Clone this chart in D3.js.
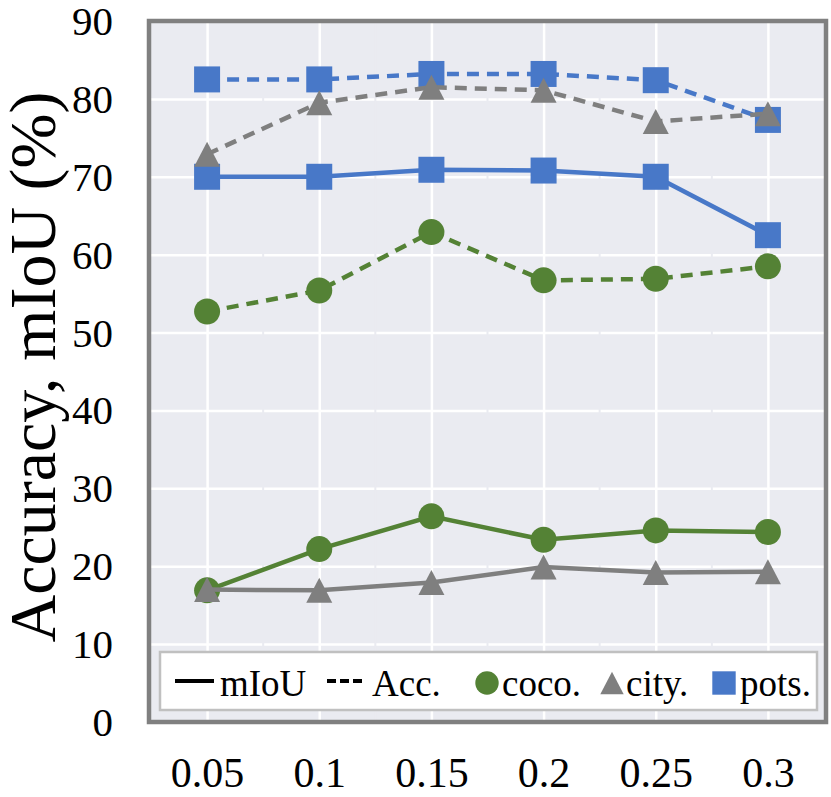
<!DOCTYPE html>
<html lang="en">
<head>
<meta charset="UTF-8">
<title>Accuracy, mIoU</title>
<style>
  body { margin: 0; background: #fff; }
  svg text { font-family: "Liberation Serif", "Times New Roman", serif; fill: #000; }
</style>
</head>
<body>
<div id="chart"></div>
<script src="https://d3js.org/d3.v7.min.js"></script>
<script>
// data
const categories = ["0.05", "0.1", "0.15", "0.2", "0.25", "0.3"];
const yTicks = [0, 10, 20, 30, 40, 50, 60, 70, 80, 90];

const cocoMIoU = [16.9, 22.2, 26.4, 23.4, 24.6, 24.4];
const cocoAcc  = [52.7, 55.4, 62.9, 56.7, 56.9, 58.5];
const cityMIoU = [17.0, 16.9, 17.9, 19.9, 19.2, 19.3];
const cityAcc  = [72.9, 79.5, 81.5, 81.1, 77.1, 78.1];
const potsMIoU = [70.0, 70.0, 70.9, 70.8, 70.0, 62.5];
const potsAcc  = [82.5, 82.5, 83.2, 83.2, 82.4, 77.3];

const colors = { coco: "#548235", city: "#7f7f7f", pots: "#4878c8" };

// draw order: coco first, then pots, city on top
const series = [
  { name: "coco", values: cocoAcc,  dashed: true,  shape: "circle" },
  { name: "coco", values: cocoMIoU, dashed: false, shape: "circle" },
  { name: "pots", values: potsMIoU, dashed: false, shape: "square" },
  { name: "pots", values: potsAcc,  dashed: true,  shape: "square" },
  { name: "city", values: cityMIoU, dashed: false, shape: "triangle" },
  { name: "city", values: cityAcc,  dashed: true,  shape: "triangle" }
];

const W = 831, H = 797;
const plot = { left: 149, right: 826, top: 21, bottom: 722 };

const svg = d3.select("#chart").append("svg")
  .attr("width", W).attr("height", H);

const x = d3.scalePoint()
  .domain(categories)
  .range([plot.left + 2, plot.right - 2])
  .padding(0.5);

const y = d3.scaleLinear()
  .domain([0, 90])
  .range([plot.bottom, plot.top]);

// plot background
svg.append("rect")
  .attr("x", plot.left).attr("y", plot.top)
  .attr("width", plot.right - plot.left).attr("height", plot.bottom - plot.top)
  .attr("fill", "#eaebf1");

// horizontal gridlines
svg.append("g")
  .attr("transform", `translate(${plot.left},0)`)
  .call(d3.axisLeft(y).tickValues(yTicks.slice(1, -1)).tickSize(-(plot.right - plot.left)).tickFormat(""))
  .call(g => g.select(".domain").remove())
  .call(g => g.selectAll("line").attr("stroke", "#fff").attr("stroke-width", 2.5));

// minor breaks between categories (background colour)
const step = x.step();
svg.append("g").selectAll("line")
  .data(categories.slice(1))
  .join("line")
  .attr("x1", d => x(d) - step / 2).attr("x2", d => x(d) - step / 2)
  .attr("y1", plot.top).attr("y2", plot.bottom)
  .attr("stroke", "#eaebf1").attr("stroke-width", 2);

// vertical gridlines at categories
svg.append("g")
  .attr("transform", `translate(0,${plot.top})`)
  .call(d3.axisBottom(x).tickSize(plot.bottom - plot.top).tickFormat(""))
  .call(g => g.select(".domain").remove())
  .call(g => g.selectAll("line").attr("stroke", "#fff").attr("stroke-width", 2.5));

// y tick labels
svg.append("g")
  .attr("transform", `translate(113,0)`)
  .call(d3.axisLeft(y).tickValues(yTicks).tickSize(0).tickPadding(0))
  .call(g => g.select(".domain").remove())
  .call(g => g.selectAll("text")
    .attr("font-size", 41)
    .attr("font-family", "Liberation Serif, Times New Roman, serif")
    .attr("dy", "0.33em")
    .attr("x", 0));

// x tick labels
svg.append("g")
  .attr("transform", `translate(0,787)`)
  .call(d3.axisBottom(x).tickSize(0).tickPadding(0))
  .call(g => g.select(".domain").remove())
  .call(g => g.selectAll("text")
    .attr("font-size", 42)
    .attr("font-family", "Liberation Serif, Times New Roman, serif")
    .attr("dy", 0)
    .attr("y", 0));

// y axis title
svg.append("text")
  .attr("transform", "translate(55,367) rotate(-90)")
  .attr("text-anchor", "middle")
  .attr("font-size", 66)
  .text("Accuracy, mIoU (%)");

const line = d3.line()
  .x((d, i) => x(categories[i]))
  .y(d => y(d));

const symbolPath = {
  circle: d3.symbol(d3.symbolCircle, Math.PI * 13 * 13)(),
  square: "M-13,-13H13V13H-13Z",
  triangle: "M0,-12.5L13,12.5H-13Z"
};

series.forEach(s => {
  const g = svg.append("g");
  g.append("path")
    .datum(s.values)
    .attr("d", line)
    .attr("fill", "none")
    .attr("stroke", colors[s.name])
    .attr("stroke-width", 4.5)
    .attr("stroke-dasharray", s.dashed ? "12,8" : null);
  g.selectAll("path.mk")
    .data(s.values)
    .join("path")
    .attr("class", "mk")
    .attr("transform", (d, i) => `translate(${x(categories[i])},${y(d)})`)
    .attr("d", symbolPath[s.shape])
    .attr("fill", colors[s.name]);
});

// frame
svg.append("rect")
  .attr("x", plot.left).attr("y", plot.top)
  .attr("width", plot.right - plot.left).attr("height", plot.bottom - plot.top)
  .attr("fill", "none")
  .attr("stroke", "#808080")
  .attr("stroke-width", 4.5);

// legend
const leg = svg.append("g");
leg.append("rect")
  .attr("x", 160).attr("y", 652).attr("width", 657).attr("height", 58)
  .attr("fill", "#fff").attr("stroke", "#c0c0c0").attr("stroke-width", 2.5);

const ly = 681, lty = 696;
leg.append("line").attr("x1", 175).attr("x2", 214).attr("y1", ly).attr("y2", ly)
  .attr("stroke", "#000").attr("stroke-width", 4);
leg.append("text").attr("x", 220).attr("y", lty).attr("font-size", 37).text("mIoU");
leg.append("line").attr("x1", 327).attr("x2", 366).attr("y1", ly).attr("y2", ly)
  .attr("stroke", "#000").attr("stroke-width", 4).attr("stroke-dasharray", "9,4");
leg.append("text").attr("x", 372).attr("y", lty).attr("font-size", 37).text("Acc.");

const legItems = [
  { name: "coco", shape: "circle", cx: 487, tx: 502, label: "coco." },
  { name: "city", shape: "triangle", cx: 612, tx: 626, label: "city." },
  { name: "pots", shape: "square", cx: 724, tx: 740, label: "pots." }
];
legItems.forEach(it => {
  leg.append("path")
    .attr("transform", `translate(${it.cx},${ly + 2}) scale(0.9)`)
    .attr("d", symbolPath[it.shape])
    .attr("fill", colors[it.name]);
  leg.append("text").attr("x", it.tx).attr("y", lty).attr("font-size", 37).text(it.label);
});
</script>
</body>
</html>
